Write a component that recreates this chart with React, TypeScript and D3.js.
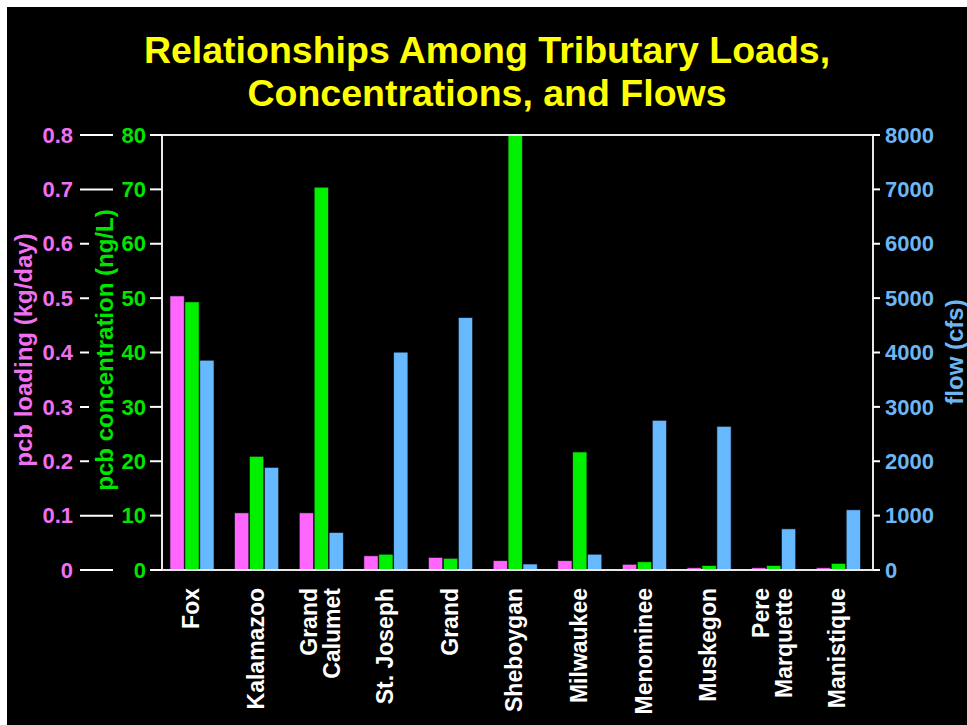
import React from "react";
import * as d3 from "d3";

const categories = [
  "Fox",
  "Kalamazoo",
  "Grand\nCalumet",
  "St. Joseph",
  "Grand",
  "Sheboygan",
  "Milwaukee",
  "Menominee",
  "Muskegon",
  "Pere\nMarquette",
  "Manistique",
];
const loading = [0.504, 0.105, 0.105, 0.026, 0.023, 0.017, 0.017, 0.0105, 0.004, 0.004, 0.004];
const concentration = [49.3, 20.9, 70.4, 2.9, 2.15, 80, 21.7, 1.5, 0.8, 0.8, 1.2];
const flow = [3858, 1886, 688, 4006, 4640, 110, 290, 2753, 2642, 756, 1106];

const loadingTicks = [0, 0.1, 0.2, 0.3, 0.4, 0.5, 0.6, 0.7, 0.8];
const concTicks = [0, 10, 20, 30, 40, 50, 60, 70, 80];
const flowTicks = [0, 1000, 2000, 3000, 4000, 5000, 6000, 7000, 8000];

const seriesKeys = ["loading", "concentration", "flow"];
const titleLines = ["Relationships Among Tributary Loads,", "Concentrations, and Flows"];

const W = 967;
const H = 725;
const left = 162;
const right = 873;
const top = 135;
const bottom = 570;

const PINK = "#FF66FF";
const GREEN = "#00F000";
const BLUE = "#66B8FF";
const PINK_T = "#F070F0";
const GREEN_T = "#00E600";
const BLUE_T = "#6DB6F2";
const FONT = "'Liberation Sans', Arial, Helvetica, sans-serif";

export default function App() {
  const x = d3.scaleBand<string>().domain(categories).range([left, right]);
  const x1 = d3.scaleBand<string>().domain(seriesKeys).range([8, 52]).paddingInner(0.05);
  const yL = d3.scaleLinear().domain([0, 0.8]).range([bottom, top]);
  const yC = d3.scaleLinear().domain([0, 80]).range([bottom, top]);
  const yF = d3.scaleLinear().domain([0, 8000]).range([bottom, top]);

  const series = [
    { key: "loading", values: loading, scale: yL, color: PINK },
    { key: "concentration", values: concentration, scale: yC, color: GREEN },
    { key: "flow", values: flow, scale: yF, color: BLUE },
  ];

  return (
    <svg
      width={W}
      height={H}
      style={{ position: "absolute", left: 0, top: 0, fontFamily: FONT, fontWeight: "bold" }}
    >
      <rect x={0} y={0} width={W} height={H} fill="#fff" />
      <rect x={7} y={7} width={W - 7} height={H - 7} fill="#000" />

      {titleLines.map((t, i) => (
        <text key={t} x={487} y={63 + i * 43} textAnchor="middle" fill="#FFFF00" fontSize={37.5}>
          {t}
        </text>
      ))}

      {/* bars */}
      {series.map((s) =>
        s.values.map((v, i) => {
          const bx = (x(categories[i]) as number) + (x1(s.key) as number);
          const by = s.scale(v);
          return (
            <rect
              key={s.key + i}
              x={bx}
              y={by}
              width={x1.bandwidth()}
              height={bottom - by}
              fill={s.color}
              stroke="#111"
              strokeWidth={0.6}
            />
          );
        })
      )}

      {/* frame */}
      <rect x={left} y={top} width={right - left} height={bottom - top} fill="none" stroke="#e8e8e8" strokeWidth={2} />

      {/* pink axis */}
      {loadingTicks.map((t) => (
        <g key={"l" + t}>
          <line x1={80} x2={113} y1={yL(t)} y2={yL(t)} stroke="#fff" strokeWidth={2} />
          <text x={73} y={yL(t)} dy="0.35em" textAnchor="end" fill={PINK_T} fontSize={22}>
            {t === 0 ? "0" : t.toFixed(1)}
          </text>
        </g>
      ))}
      {/* green axis */}
      {concTicks.map((t) => (
        <g key={"c" + t}>
          <line x1={150} x2={left} y1={yC(t)} y2={yC(t)} stroke="#fff" strokeWidth={2} />
          <text x={146} y={yC(t)} dy="0.35em" textAnchor="end" fill={GREEN_T} fontSize={22}>
            {t}
          </text>
        </g>
      ))}
      {/* right axis */}
      {flowTicks.map((t) => (
        <g key={"f" + t}>
          <line x1={right} x2={880} y1={yF(t)} y2={yF(t)} stroke="#fff" strokeWidth={2} />
          <text x={885} y={yF(t)} dy="0.35em" textAnchor="start" fill={BLUE_T} fontSize={22}>
            {t}
          </text>
        </g>
      ))}

      {/* axis titles */}
      <text transform="translate(32,350) rotate(-90)" textAnchor="middle" fill={PINK_T} fontSize={24}>
        pcb loading (kg/day)
      </text>
      <rect x={89} y={200} width={24} height={300} fill="#000" />
      <text transform="translate(113,350) rotate(-90)" textAnchor="middle" fill={GREEN_T} fontSize={24}>
        pcb concentration (ng/L)
      </text>
      <text transform="translate(963,352) rotate(-90)" textAnchor="middle" fill={BLUE_T} fontSize={24}>
        flow (cfs)
      </text>

      {/* category labels */}
      {categories.map((c) => {
        const lines = c.split("\n");
        const cx = (x(c) as number) + 29;
        return lines.map((ln, j) => {
          const lx = cx + (j - (lines.length - 1) / 2) * 23;
          return (
            <text
              key={c + j}
              transform={`translate(${lx},588) rotate(-90)`}
              dy="0.35em"
              textAnchor="end"
              fill="#fff"
              fontSize={23}
            >
              {ln}
            </text>
          );
        });
      })}
    </svg>
  );
}
